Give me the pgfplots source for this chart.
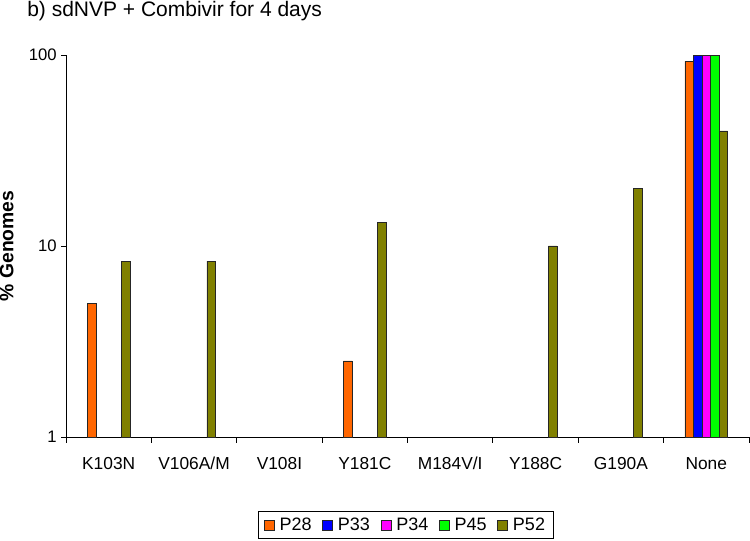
\documentclass[border=0pt]{standalone}
\usepackage{fontspec}
\setmainfont{Liberation Sans}
\usepackage{pgfplots}
\pgfplotsset{compat=1.18}
\definecolor{cA}{HTML}{FF6600}
\definecolor{cB}{HTML}{0000FF}
\definecolor{cC}{HTML}{FF00FF}
\definecolor{cD}{HTML}{00FF00}
\definecolor{cE}{HTML}{808000}
\begin{document}
\begin{tikzpicture}
\useasboundingbox (-49.5pt,-78pt) rectangle (513pt,327.75pt);
\begin{axis}[
  at={(0,0)}, anchor=south west,
  scale only axis, width=512.25pt, height=286.5pt,
  ymode=log, ymin=1, ymax=100, xmin=-0.5, xmax=7.5,
  axis x line*=bottom, axis y line*=left,
  axis line style={line width=0.7pt, black},
  xtick={0,1,2,3,4,5,6,7},
  xticklabels={K103N,V106A/M,V108I,Y181C,M184V/I,Y188C,G190A,None},
  major x tick style={draw=none},
  minor xtick={-0.5,0.5,1.5,2.5,3.5,4.5,5.5,6.5,7.5},
  minor x tick style={line width=0.7pt, black},
  tick align=outside, major tick length=3.5pt, minor tick length=4.5pt,
  ytick={1,10,100}, yticklabels={1,10,100},
  y tick style={line width=0.7pt, black},
  yminorticks=false,
  yticklabel style={font=\fontsize{12.5}{15}\selectfont},
  xticklabel style={font=\fontsize{13}{16}\selectfont, anchor=base, yshift=-21pt},
  ylabel={\textbf{\% Genomes}},
  ylabel style={at={(axis description cs:-0.0769,0.5)}, anchor=base, font=\fontsize{14.5}{17}\selectfont},
  ybar, bar width=0.1,
  every axis plot/.append style={draw=black!85, line width=0.5pt},
  legend style={at={(0.4975,-0.2304)}, anchor=center, legend columns=5, draw=black, line width=0.6pt,
     font=\fontsize{13.5}{16}\selectfont, inner xsep=4pt, inner ysep=2.5pt,
     /tikz/every even column/.append style={column sep=6pt}},
  legend image code/.code={\draw[#1, line width=0.5pt] (0pt,-3.75pt) rectangle (7.5pt,3.75pt); \path[draw=none, fill=none] (0pt,0pt) rectangle (9.5pt,0pt);},
  clip=false,
]
\addplot[fill=cA, bar shift=-0.2] coordinates {(0,5) (3,2.5) (7,92.5)};
\addplot[fill=cB, bar shift=-0.1] coordinates {(7,100)};
\addplot[fill=cC, bar shift=0] coordinates {(7,100)};
\addplot[fill=cD, bar shift=0.1] coordinates {(7,100)};
\addplot[fill=cE, bar shift=0.2] coordinates {(0,8.33) (1,8.33) (3,13.3) (5,10) (6,20) (7,40)};
\legend{P28,P33,P34,P45,P52}
\end{axis}
\node[anchor=base west, font=\fontsize{15.75}{19}\selectfont, inner sep=0pt] at (-29.25pt,315.2pt) {b) sdNVP + Combivir for 4 days};
\end{tikzpicture}
\end{document}
